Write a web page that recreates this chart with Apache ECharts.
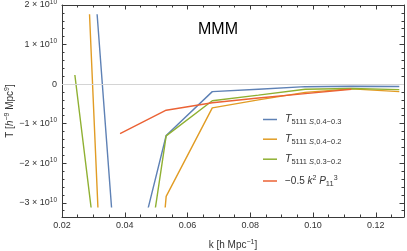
<!DOCTYPE html>
<html><head><meta charset="utf-8">
<script src="https://cdn.jsdelivr.net/npm/echarts@6/dist/echarts.min.js"></script>
<style>html,body{margin:0;padding:0;background:#fff}#c{width:407px;height:251px}</style>
</head><body><div id="c"></div>
<script>
// ---- data (values in units of 1e10) ----
const kValues = [0.0241, 0.0385, 0.0532, 0.0679, 0.0826, 0.0975, 0.1122, 0.1275];
const seriesNames = ['T5111 S,0.4-0.3', 'T5111 S,0.4-0.2', 'T5111 S,0.3-0.2', '-0.5 k2 P11^3'];
const blueValues   = [9.3, -6.0, -1.30, -0.19, -0.13, -0.065, -0.055, -0.06];
const orangeValues = [10.3, -16.0, -2.84, -0.60, -0.40, -0.21, -0.12, -0.19];
const greenValues  = [0.23, -9.1, -1.31, -0.42, -0.28, -0.13, -0.11, -0.14];
const redValues    = [null, -1.25, -0.66, -0.47, -0.35, -0.24, -0.13, null];
const xMajorTicks = [0.02, 0.04, 0.06, 0.08, 0.10, 0.12];
const xTickLabels = ['0.02', '0.04', '0.06', '0.08', '0.10', '0.12'];
const yMajorTicks = [-3e10, -2e10, -1e10, 0, 1e10, 2e10];
const yTickMantissa = ['\u22123', '\u22122', '\u22121', '0', '1', '2'];
const xMinorTicks = [0.025,0.03,0.035,0.045,0.05,0.055,0.065,0.07,0.075,0.085,0.09,0.095,0.105,0.11,0.115,0.125];
const yMinorTicks = [-3.2e10,-2.8e10,-2.6e10,-2.4e10,-2.2e10,-1.8e10,-1.6e10,-1.4e10,-1.2e10,-0.8e10,-0.6e10,-0.4e10,-0.2e10,
                     0.2e10,0.4e10,0.6e10,0.8e10,1.2e10,1.4e10,1.6e10,1.8e10];
const colors = ['#5E81B5', '#E19C24', '#8FB032', '#EB6235'];
const X_RANGE = [0.02, 0.129];
const Y_RANGE = [-3.36e10, 2e10];
const CLIP_Y = [-3.1e10, 1.75e10];

const FONT = 'Liberation Sans';
const TXT = '#333';
const FRAME = '#3a3a3a';
const W = 407, H = 251;
const G = {left: 62, right: 3, top: 5, bottom: 34};
const gh = H - G.top - G.bottom;
const clipTop = G.top + (Y_RANGE[1] - CLIP_Y[1]) / (Y_RANGE[1] - Y_RANGE[0]) * gh;
const clipBottom = G.bottom + (CLIP_Y[0] - Y_RANGE[0]) / (Y_RANGE[1] - Y_RANGE[0]) * gh;

const chart = echarts.init(document.getElementById('c'), null, {renderer: 'canvas', width: W, height: H});

function frameAxis(kind, position, ticks, len, showLine, extra) {
  const range = kind === 'x' ? X_RANGE : Y_RANGE;
  return Object.assign({
    type: 'value', gridIndex: 0, position: position, min: range[0], max: range[1],
    axisLine: {show: showLine, onZero: false, lineStyle: {color: FRAME, width: 1}},
    axisTick: {show: true, inside: true, length: len, customValues: ticks, lineStyle: {color: FRAME, width: 1}},
    axisLabel: {show: false},
    splitLine: {show: false}, minorTick: {show: false}
  }, extra || {});
}

const labelRich = {
  a: {fontFamily: FONT, fontSize: 9, color: TXT},
  s: {fontFamily: FONT, fontSize: 6.5, color: TXT, padding: [0, 0, 6, 0]}
};
const nameRich = {
  a: {fontFamily: FONT, fontSize: 10, color: TXT},
  ai: {fontFamily: FONT, fontSize: 10, color: TXT, fontStyle: 'italic'},
  s: {fontFamily: FONT, fontSize: 7, color: TXT, padding: [0, 0, 6, 0]}
};

const xAxes = [
  frameAxis('x', 'bottom', xMajorTicks, 4.5, true, {
    axisLabel: {show: true, customValues: xMajorTicks, margin: 4, fontFamily: FONT, fontSize: 9, color: TXT,
      formatter: v => { const i = xMajorTicks.findIndex(t => Math.abs(t - v) < 1e-9); return i >= 0 ? xTickLabels[i] : ''; }},
    name: '{a|k [h Mpc}{s|\u22121}{a|]}', nameLocation: 'middle', nameGap: 22, nameMoveOverlap: false,
    nameTextStyle: {rich: nameRich}
  }),
  frameAxis('x', 'bottom', xMinorTicks, 2.5, false),
  frameAxis('x', 'top', xMajorTicks, 4.5, true),
  frameAxis('x', 'top', xMinorTicks, 2.5, false),
  {type: 'value', gridIndex: 1, min: X_RANGE[0], max: X_RANGE[1], show: false}
];
const yAxes = [
  frameAxis('y', 'left', yMajorTicks, 4.5, true, {
    axisLabel: {show: true, customValues: yMajorTicks, margin: 5, rich: labelRich,
      formatter: v => { const i = yMajorTicks.findIndex(t => Math.abs(t - v) < 1); if (i < 0) return '';
        const m = yTickMantissa[i]; return m === '0' ? '{a|0}' : '{a|' + m + ' \u00d7 10}{s|10}'; }},
    name: '{a|T [}{ai|h}{s|\u22129}{a| Mpc}{s|9}{a|]}', nameLocation: 'middle', nameGap: 45, nameRotate: 90,
    nameMoveOverlap: false,
    nameTextStyle: {rich: nameRich}
  }),
  frameAxis('y', 'left', yMinorTicks, 2.5, false),
  frameAxis('y', 'right', yMajorTicks, 4.5, true),
  frameAxis('y', 'right', yMinorTicks, 2.5, false),
  {type: 'value', gridIndex: 1, min: CLIP_Y[0], max: CLIP_Y[1], show: false}
];

const valueSets = [blueValues, orangeValues, greenValues, redValues];
const series = valueSets.map((vals, si) => ({
  name: seriesNames[si], type: 'line', xAxisIndex: 4, yAxisIndex: 4,
  data: kValues.map((k, i) => vals[i] === null ? null : [k, vals[i] * 1e10]).filter(d => d !== null),
  showSymbol: false, symbol: 'none', clip: true, silent: true,
  lineStyle: {color: colors[si], width: 1.4}, itemStyle: {color: colors[si]}
}));
series[0].markLine = {silent: true, symbol: 'none', label: {show: false},
  lineStyle: {color: '#d4d4d4', width: 1, type: 'solid'}, data: [{yAxis: 0}]};

const legRich = {
  T: {fontFamily: FONT, fontSize: 10.5, fontStyle: 'italic', color: TXT, padding: [0, 0, 0, 3]},
  n: {fontFamily: FONT, fontSize: 10, color: TXT, padding: [0, 0, 0, 3]},
  i: {fontFamily: FONT, fontSize: 10, fontStyle: 'italic', color: TXT},
  b: {fontFamily: FONT, fontSize: 7.5, color: TXT, padding: [5, 0, 0, 0]},
  bi: {fontFamily: FONT, fontSize: 7.5, fontStyle: 'italic', color: TXT, padding: [5, 0, 0, 0]},
  p: {fontFamily: FONT, fontSize: 7, color: TXT, padding: [0, 0, 6, 0]}
};
const legendText = [
  '{T|T}{b|5111 }{bi|S}{b|,0.4\u22120.3}',
  '{T|T}{b|5111 }{bi|S}{b|,0.4\u22120.2}',
  '{T|T}{b|5111 }{bi|S}{b|,0.3\u22120.2}',
  '{n|\u22120.5 }{i|k}{p|2}{i| P}{b|11}{p|3}'
];
const legendY = [122, 141.7, 161.7, 182.5];
const legends = seriesNames.map((nm, i) => ({
  data: [nm], left: 263, top: legendY[i] - 8, orient: 'vertical', selectedMode: false,
  icon: 'rect', itemWidth: 14, itemHeight: 1.5, padding: 0,
  formatter: () => legendText[i], textStyle: {rich: legRich}
}));

chart.setOption({
  animation: false,
  backgroundColor: '#fff',
  grid: [
    Object.assign({containLabel: false, outerBoundsMode: 'none'}, G),
    {left: G.left, right: G.right, top: clipTop, bottom: clipBottom, containLabel: false, outerBoundsMode: 'none'}
  ],
  xAxis: xAxes,
  yAxis: yAxes,
  legend: legends,
  graphic: [{type: 'text', x: 218, y: 30, style: {text: 'MMM', fontFamily: FONT, fontSize: 16, fill: '#000',
    textAlign: 'center', textVerticalAlign: 'middle'}}],
  series: series
});
</script></body></html>
